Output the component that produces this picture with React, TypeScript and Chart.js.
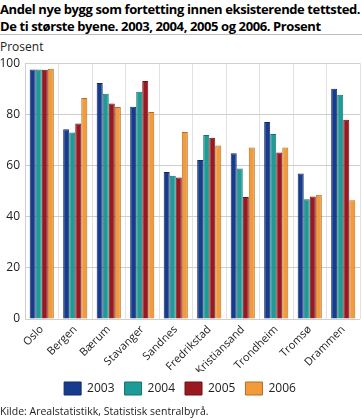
import React, { useEffect, useRef } from "react";
import { Chart, registerables } from "chart.js";

Chart.register(...registerables);

const cities = ["Oslo", "Bergen", "Bærum", "Stavanger", "Sandnes", "Fredrikstad", "Kristiansand", "Trondheim", "Tromsø", "Drammen"];
const years = ["2003", "2004", "2005", "2006"];
const v2003 = [97.5, 74.2, 92.3, 83.0, 57.5, 62.2, 64.8, 77.0, 56.9, 90.0];
const v2004 = [97.5, 72.9, 88.1, 88.8, 56.0, 71.9, 58.8, 72.3, 46.8, 87.7];
const v2005 = [97.4, 76.4, 84.2, 93.0, 55.3, 70.9, 47.7, 65.1, 47.9, 77.9];
const v2006 = [97.8, 86.4, 82.9, 80.9, 73.1, 67.8, 67.0, 67.0, 48.6, 46.4];
const yTicks = [0, 20, 40, 60, 80, 100];

const colors = ["#173c8e", "#1e9a97", "#9b1820", "#f39a3a"];
const borders = ["#0f2a66", "#157370", "#6e1015", "#b06e28"];

const FONT = "'Open Sans', 'DejaVu Sans', sans-serif";

export default function App() {
  const ref = useRef<HTMLCanvasElement | null>(null);

  useEffect(() => {
    document.body.style.margin = "0";
    const canvas = ref.current;
    if (!canvas) return;
    const series = [v2003, v2004, v2005, v2006];
    const chart = new Chart(canvas, {
      type: "bar",
      data: {
        labels: cities,
        datasets: series.map((d, i) => ({
          label: years[i],
          data: d,
          backgroundColor: colors[i],
          borderColor: borders[i],
          borderWidth: 1,
          borderSkipped: "bottom",
          categoryPercentage: 0.72,
          barPercentage: 1.0,
        })),
      },
      options: {
        responsive: false,
        animation: false,
        maintainAspectRatio: false,
        layout: { padding: { top: 5, right: 2, left: 0, bottom: 0 } },
        scales: {
          x: {
            offset: true,
            grid: { color: "#e2e2e2", lineWidth: 1, offset: true, drawTicks: false },
            border: { display: false },
            ticks: {
              minRotation: 45,
              maxRotation: 45,
              autoSkip: false,
              color: "#222",
              padding: 4,
              font: { family: FONT, size: 11 },
            },
            afterFit: (s: any) => {
              s.height = 53;
            },
          },
          y: {
            min: 0,
            max: 100,
            afterBuildTicks: (s: any) => {
              s.ticks = yTicks.map((v) => ({ value: v }));
            },
            grid: { color: "#cfcfcf", lineWidth: 1, drawTicks: false },
            border: { display: true, color: "#cfcfcf" },
            ticks: {
              color: "#222",
              padding: 5,
              font: { family: FONT, size: 12 },
            },
            afterFit: (s: any) => {
              s.width = 25;
            },
          },
        },
        plugins: {
          legend: {
            position: "bottom",
            labels: {
              boxWidth: 17,
              boxHeight: 13,
              padding: 10,
              color: "#222",
              font: { family: FONT, size: 12 },
            },
          },
          tooltip: { enabled: false },
        },
      },
    });
    return () => chart.destroy();
  }, []);

  return (
    <div style={{ position: "relative", width: 362, height: 418, fontFamily: FONT, color: "#000", overflow: "hidden" }}>
      <div style={{ position: "absolute", left: 0, top: 1, fontWeight: 700, fontSize: 13, letterSpacing: "-0.4px", lineHeight: "17px", whiteSpace: "nowrap" }}>
        <div>Andel nye bygg som fortetting innen eksisterende tettsted.</div>
        <div>De ti største byene. 2003, 2004, 2005 og 2006. Prosent</div>
      </div>
      <div style={{ position: "absolute", left: 0, top: 34, width: 362, height: 1, background: "#bdbdbd" }} />
      <div style={{ position: "absolute", left: 0, top: 40, fontSize: 12, color: "#222", lineHeight: "14px" }}>Prosent</div>
      <canvas ref={ref} width={362} height={354} style={{ position: "absolute", left: 0, top: 51, width: 362, height: 354 }} />
      <div style={{ position: "absolute", left: 0, top: 404, fontSize: 10.5, color: "#222", lineHeight: "14px", whiteSpace: "nowrap" }}>
        Kilde: Arealstatistikk, Statistisk sentralbyrå.
      </div>
    </div>
  );
}
